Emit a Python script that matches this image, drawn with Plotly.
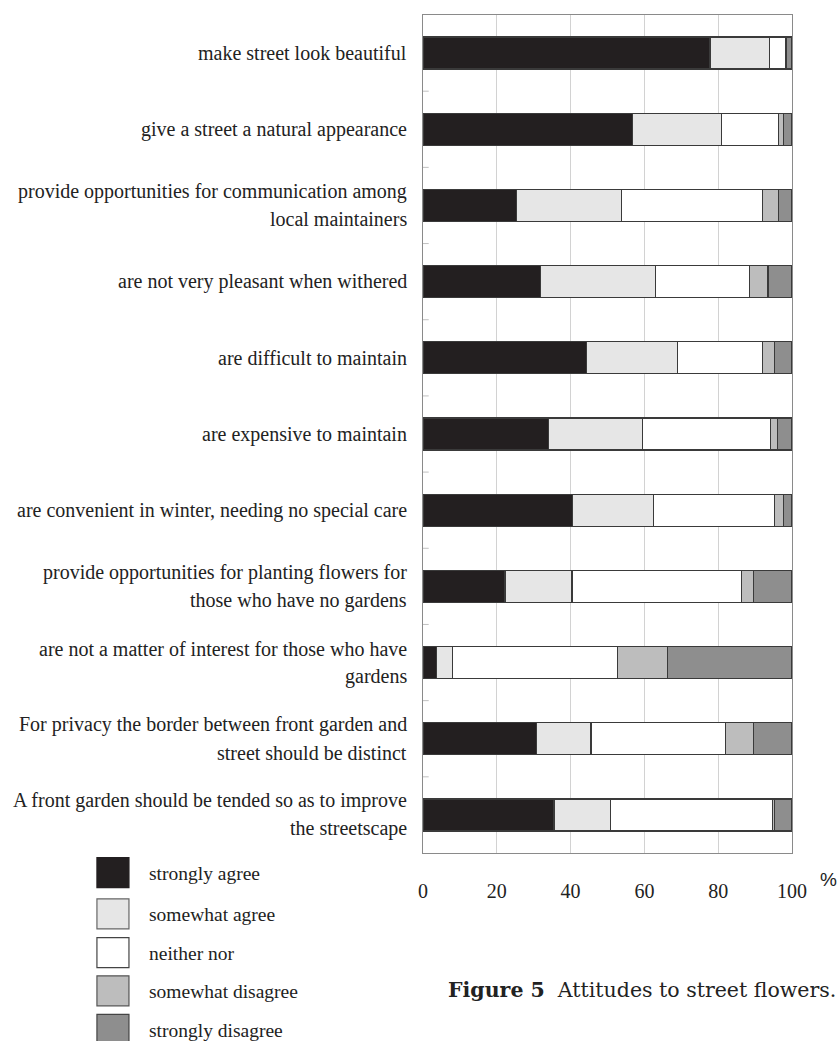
import plotly.graph_objects as go

# ---------------- data ----------------
statements = [
    "make street look beautiful",
    "give a street a natural appearance",
    "provide opportunities for communication among\nlocal maintainers",
    "are not very pleasant when withered",
    "are difficult to maintain",
    "are expensive to maintain",
    "are convenient in winter, needing no special care",
    "provide opportunities for planting flowers for\nthose who have no gardens",
    "are not a matter of interest for those who have\ngardens",
    "For privacy the border between front garden and\nstreet should be distinct",
    "A front garden should be tended so as to improve\nthe streetscape",
]
series_names = ["strongly agree", "somewhat agree", "neither nor",
                "somewhat disagree", "strongly disagree"]

strongly_agree    = [77.8, 56.8, 25.4, 31.9, 44.2, 34.1, 40.6, 22.2, 3.7, 30.8, 35.5]
somewhat_agree    = [16.0, 24.0, 28.3, 31.2, 24.7, 25.4, 21.8, 18.2, 4.3, 14.7, 15.3]
neither_nor       = [4.4, 15.6, 38.3, 25.3, 23.1, 34.6, 32.9, 45.9, 44.7, 36.4, 44.0]
somewhat_disagree = [0.2, 1.4, 4.4, 5.1, 3.2, 1.9, 2.5, 3.2, 13.5, 7.6, 0.5]
strongly_disagree = [1.6, 2.2, 3.6, 6.5, 4.8, 4.0, 2.2, 10.5, 33.8, 10.5, 4.7]

x_ticks = [0, 20, 40, 60, 80, 100]

values = [strongly_agree, somewhat_agree, neither_nor, somewhat_disagree, strongly_disagree]
colors = ["#231f20", "#e6e6e6", "#ffffff", "#bdbdbd", "#8e8e8e"]
edge_colors = ["#231f20", "#666666", "#444444", "#555555", "#444444"]

# plot-area geometry in pixels
W, H = 840, 1041
L, R, T, B = 423.3, 792.0, 14.7, 852.7

def px(xp):
    return (xp - L) / (R - L)

def py(yp):
    return (B - yp) / (B - T)

cat_ids = list(range(len(statements)))

fig = go.Figure()
for name, vals, col in zip(series_names, values, colors):
    fig.add_trace(go.Bar(
        y=cat_ids, x=vals, name=name, orientation="h",
        marker=dict(color=col, line=dict(color="#3a3a3a", width=1.2)),
        width=0.42, showlegend=False,
    ))

serif = "Liberation Serif, Times New Roman, serif"
annotations = []
# category labels (possibly two lines each)
for i, lab in enumerate(statements):
    lines = lab.split("\n")
    n = len(lines)
    for j, line in enumerate(lines):
        annotations.append(dict(
            x=px(409), y=i, xref="paper", yref="y",
            text=line, showarrow=False, xanchor="right", yanchor="middle",
            yshift=(n - 1) / 2 * 28 - j * 28,
            font=dict(family=serif, size=20, color="#222222"),
        ))

# percent sign
annotations.append(dict(x=px(828), y=py(879), xref="paper", yref="paper",
                        text="%", showarrow=False, xanchor="center", yanchor="middle",
                        font=dict(family="Liberation Sans", size=19, color="#222222")))

# caption
annotations.append(dict(x=px(446), y=py(990), xref="paper", yref="paper",
                        text="<b>Figure 5</b>  Attitudes to street flowers.",
                        showarrow=False, xanchor="left", yanchor="middle",
                        font=dict(family="DejaVu Serif", size=20.5, color="#222222")))

# custom legend
shapes = []
leg_top = [857.3, 898.5, 937.3, 975.5, 1014.0]
for k, (name, col, ec) in enumerate(zip(series_names, colors, edge_colors)):
    y0 = leg_top[k]
    shapes.append(dict(type="rect", xref="paper", yref="paper",
                       x0=px(97.5), x1=px(129.5), y0=py(y0 + 30), y1=py(y0),
                       fillcolor=col, line=dict(color=ec, width=1.2), layer="above"))
    annotations.append(dict(x=px(148), y=py(y0 + 16), xref="paper", yref="paper",
                            text=name, showarrow=False, xanchor="left", yanchor="middle",
                            font=dict(family=serif, size=19.5, color="#222222")))

fig.update_layout(
    width=W, height=H,
    margin=dict(l=L, r=W - R, t=T, b=H - B, pad=0),
    barmode="stack", bargap=0.58,
    paper_bgcolor="white", plot_bgcolor="white",
    annotations=annotations, shapes=shapes,
    xaxis=dict(range=[0, 100], tickvals=x_ticks, ticktext=[str(v) for v in x_ticks],
               showgrid=True, gridcolor="#d2d2d2", gridwidth=1,
               showline=True, mirror=True, linecolor="#8a8a8a", linewidth=1,
               ticks="", ticklabelstandoff=20, zeroline=False,
               tickfont=dict(family=serif, size=20, color="#222222")),
    yaxis=dict(range=[len(statements) - 0.5, -0.5], tickvals=cat_ids,
               showticklabels=False, showgrid=False, zeroline=False,
               showline=True, mirror=True, linecolor="#8a8a8a", linewidth=1,
               ticks=""),
)

# small inside tick marks on left axis at category boundaries
for i in range(1, len(statements)):
    shapes.append(dict(type="line", xref="paper", yref="y",
                       x0=0, x1=px(429), y0=i - 0.5, y1=i - 0.5,
                       line=dict(color="#c0c0c0", width=1)))
fig.update_layout(shapes=shapes)

fig.write_html("out.html")
